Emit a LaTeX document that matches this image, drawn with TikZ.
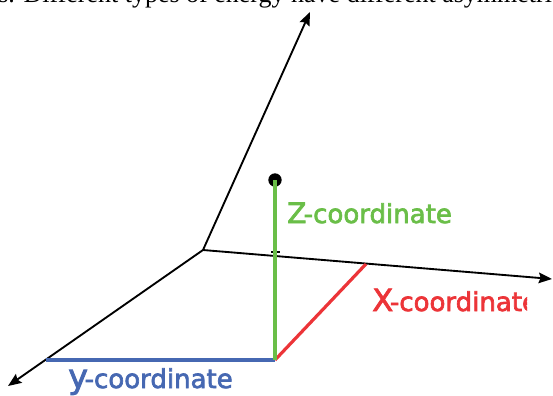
\documentclass[tikz,border=0pt]{standalone}
\usepackage{fontspec}
\setmainfont{DejaVu Sans}
\newfontfamily\lblfont{DejaVu Sans}[FakeBold=2.5]
\newfontfamily\capserif{Liberation Serif}
\usetikzlibrary{arrows.meta}
\definecolor{zgreen}{RGB}{106,190,72}
\definecolor{xred}{RGB}{236,52,56}
\definecolor{yblue}{RGB}{70,104,178}
\begin{document}
\begin{tikzpicture}[x=0.75pt,y=-0.75pt,
  axis/.style={line width=1.4pt,-{Stealth[length=10pt,width=8pt,inset=1.5pt]}},
  comp/.style={line width=2.4pt},
  lbl/.style={anchor=base west,inner sep=0pt,font=\lblfont\fontsize{19.5}{19.5}\selectfont}]
\useasboundingbox (0,0) rectangle (553,396);
\begin{scope}
\clip (0,0) rectangle (553,396);
\node[anchor=base west,inner sep=0pt,font=\capserif\fontsize{19.5}{19.5}\selectfont] (cap) at (-2,2.5) {s. Different types of energy have different asymmetri};
\end{scope}
\coordinate (O) at (203,250);
\coordinate (Zt) at (310,12);
\coordinate (Xt) at (552,279);
\coordinate (Yt) at (8,386);
\coordinate (G) at (275,360);
\coordinate (B) at (46,360);
\coordinate (R) at (366,264);
\draw[axis] (O) -- (Zt);
\draw[axis] (O) -- (Xt);
\draw[axis] (O) -- (Yt);
\draw[comp,yblue] (B) -- (G);
\draw[comp,xred] (G) -- (R);
\node[circle,fill=black,inner sep=0pt,minimum size=10pt] (P) at (275,180) {};
\draw[comp,zgreen] (P.center) -- (G);
\fill[black] (270.5,250.5) rectangle (273,253);
\fill[black] (277,250.5) rectangle (279.5,253);
\node[lbl,text=zgreen] (zl) at (287,223) {{\fontsize{21}{21}\selectfont Z}\kern-2pt-coordinate};
\begin{scope}
\clip (0,0) rectangle (527,396);
\node[lbl,text=xred] (xl) at (372,311) {{\fontsize{23}{23}\selectfont X}\kern-2.5pt-coordinate};
\end{scope}
\node[lbl,text=yblue] (yl) at (68,388) {{\fontsize{25}{25}\selectfont y}\kern-2.5pt-coordinate};
\end{tikzpicture}
\end{document}
